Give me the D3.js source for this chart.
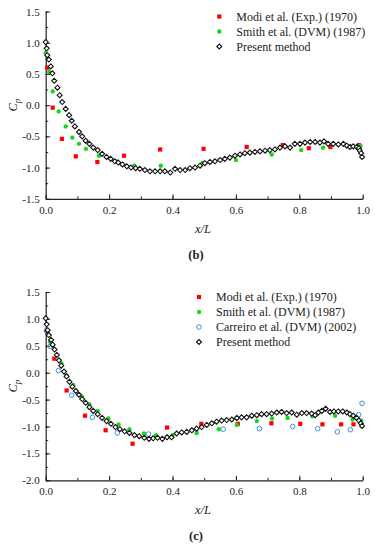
<!DOCTYPE html>
<html>
<head>
<meta charset="utf-8">
<title>Cp distribution</title>
<script src="https://d3js.org/d3.v7.min.js"></script>
<style>
  body { margin: 0; background: #fff; }
  text { font-family: "Liberation Serif", "Times New Roman", serif; fill: #222; }
</style>
</head>
<body>
<script>
// ---- data (x/L, Cp) ----
const xTicks = [0.0, 0.2, 0.4, 0.6, 0.8, 1.0];
const yTicksB = [1.5, 1.0, 0.5, 0.0, -0.5, -1.0, -1.5];
const yTicksC = [1.5, 1.0, 0.5, 0.0, -0.5, -1.0, -1.5, -2.0];

// panel (b)
const modiB = [[0.005,0.60],[0.022,-0.04],[0.051,-0.54],[0.095,-0.82],[0.163,-0.91],[0.247,-0.81],
  [0.361,-0.71],[0.498,-0.70],[0.634,-0.67],[0.748,-0.64],[0.830,-0.69],[0.898,-0.67],[0.988,-0.64]];
const smithB = [[0.0,0.84],[0.011,0.53],[0.022,0.22],[0.041,-0.10],[0.063,-0.34],[0.084,-0.52],
  [0.105,-0.62],[0.127,-0.70],[0.168,-0.81],[0.224,-0.90],[0.279,-0.97],[0.363,-0.97],[0.495,-0.92],
  [0.600,-0.88],[0.713,-0.79],[0.806,-0.72],[0.875,-0.68],[0.993,-0.65]];
const presentB = [[0,1.01],[0.003,0.91],[0.005,0.80],[0.01,0.73],[0.016,0.62],[0.021,0.51],[0.027,0.39],
  [0.037,0.28],[0.044,0.16],[0.052,0.05],[0.063,-0.06],[0.074,-0.16],[0.082,-0.25],[0.092,-0.34],
  [0.105,-0.43],[0.115,-0.50],[0.126,-0.57],[0.138,-0.62],[0.150,-0.68],[0.164,-0.72],[0.178,-0.78],
  [0.192,-0.83],[0.205,-0.86],[0.218,-0.90],[0.229,-0.92],[0.242,-0.95],[0.256,-0.98],[0.269,-1.00],
  [0.284,-1.01],[0.297,-1.02],[0.313,-1.04],[0.329,-1.06],[0.345,-1.06],[0.361,-1.06],[0.376,-1.06],
  [0.393,-1.08],[0.408,-1.02],[0.424,-1.04],[0.440,-1.04],[0.455,-1.01],[0.471,-1.00],[0.487,-0.97],
  [0.502,-0.93],[0.518,-0.91],[0.534,-0.90],[0.550,-0.88],[0.565,-0.86],[0.581,-0.84],[0.597,-0.81],
  [0.613,-0.79],[0.628,-0.77],[0.644,-0.76],[0.660,-0.75],[0.676,-0.74],[0.692,-0.73],[0.707,-0.72],
  [0.723,-0.71],[0.739,-0.68],[0.755,-0.66],[0.771,-0.68],[0.786,-0.62],[0.802,-0.62],[0.818,-0.60],
  [0.834,-0.59],[0.850,-0.59],[0.865,-0.60],[0.878,-0.58],[0.891,-0.62],[0.907,-0.62],[0.923,-0.63],
  [0.939,-0.62],[0.950,-0.65],[0.960,-0.67],[0.970,-0.66],[0.981,-0.67],[0.988,-0.69],[0.991,-0.73],
  [0.995,-0.77],[0.998,-0.83]];

// panel (c)
const modiC = [[0.005,0.75],[0.027,0.26],[0.066,-0.33],[0.124,-0.80],[0.189,-1.07],[0.274,-1.32],
  [0.383,-1.02],[0.491,-0.95],[0.606,-0.95],[0.712,-0.94],[0.803,-0.95],[0.873,-0.96],[0.932,-0.96],[0.971,-0.96]];
const smithC = [[0.014,0.57],[0.050,0.17],[0.066,-0.05],[0.087,-0.23],[0.115,-0.45],[0.138,-0.59],
  [0.164,-0.71],[0.198,-0.85],[0.230,-0.96],[0.264,-1.05],[0.310,-1.13],[0.348,-1.16],[0.400,-1.16],
  [0.476,-1.12],[0.546,-1.05],[0.603,-0.97],[0.666,-0.90],[0.714,-0.85],[0.763,-0.84],[0.841,-0.81],
  [0.913,-0.80],[0.968,-0.87],[0.995,-0.89]];
const carreiroC = [[0.002,0.78],[0.014,0.49],[0.040,0.04],[0.082,-0.42],[0.147,-0.83],[0.226,-1.12],
  [0.324,-1.14],[0.560,-1.05],[0.674,-1.04],[0.779,-1.00],[0.858,-1.04],[0.920,-1.10],[0.961,-1.06],
  [0.987,-0.78],[0.998,-0.57]];
const presentC = [[0,1.01],[0.003,0.90],[0.006,0.79],[0.01,0.70],[0.017,0.61],[0.022,0.52],[0.028,0.43],
  [0.035,0.33],[0.042,0.23],[0.049,0.13],[0.058,0.02],[0.066,-0.07],[0.075,-0.17],[0.084,-0.26],
  [0.095,-0.34],[0.105,-0.41],[0.115,-0.49],[0.126,-0.56],[0.138,-0.64],[0.150,-0.71],[0.164,-0.77],
  [0.178,-0.84],[0.192,-0.90],[0.206,-0.95],[0.220,-1.01],[0.234,-1.05],[0.249,-1.09],[0.264,-1.12],
  [0.280,-1.16],[0.295,-1.18],[0.311,-1.21],[0.326,-1.23],[0.339,-1.22],[0.353,-1.21],[0.368,-1.23],
  [0.383,-1.20],[0.397,-1.20],[0.413,-1.13],[0.429,-1.11],[0.445,-1.10],[0.461,-1.07],[0.476,-1.04],
  [0.492,-1.01],[0.508,-0.97],[0.524,-0.94],[0.539,-0.91],[0.555,-0.89],[0.571,-0.88],[0.587,-0.87],
  [0.603,-0.84],[0.618,-0.83],[0.634,-0.83],[0.650,-0.80],[0.666,-0.79],[0.681,-0.77],[0.697,-0.77],
  [0.713,-0.76],[0.729,-0.74],[0.744,-0.73],[0.760,-0.75],[0.776,-0.74],[0.792,-0.78],[0.808,-0.75],
  [0.823,-0.75],[0.839,-0.76],[0.850,-0.79],[0.860,-0.74],[0.871,-0.71],[0.883,-0.67],[0.897,-0.73],
  [0.909,-0.72],[0.923,-0.72],[0.937,-0.72],[0.950,-0.74],[0.960,-0.77],[0.970,-0.80],[0.981,-0.84],
  [0.988,-0.89],[0.994,-0.94],[0.998,-0.99]];

const width = 375, height = 550;
const svg = d3.select("body").append("svg")
  .attr("width", width)
  .attr("height", height);

const styles = {
  modi:     { name: "Modi et al. (Exp.) (1970)",     kind: "square" },
  smith:    { name: "Smith et al. (DVM) (1987)",     kind: "dot" },
  carreiro: { name: "Carreiro et al. (DVM) (2002)",  kind: "ring" },
  present:  { name: "Present method",                kind: "diamond" }
};

function drawMarker(sel, kind) {
  if (kind === "square") {
    sel.append("rect").attr("x", -2.1).attr("y", -2.1).attr("width", 4.2).attr("height", 4.2)
      .attr("fill", "#ff0000");
  } else if (kind === "dot") {
    sel.append("circle").attr("r", 2.2).attr("fill", "#16d916");
  } else if (kind === "ring") {
    sel.append("circle").attr("r", 2.3).attr("fill", "none")
      .attr("stroke", "#3b8ef0").attr("stroke-width", 1);
  } else {
    sel.append("path").attr("d", d3.symbol(d3.symbolDiamond2, 16)())
      .attr("fill", "#fff").attr("stroke", "#111").attr("stroke-width", 1.1);
  }
}

function panel(opt) {
  const x = d3.scaleLinear().domain([0, 1]).range([45.7, 362.7]);
  const y = d3.scaleLinear().domain(opt.yDomain).range(opt.yRange);
  const g = svg.append("g");

  // minor ticks
  g.append("g").attr("transform", `translate(0,${opt.yRange[0]})`)
    .call(d3.axisBottom(x).tickValues(d3.range(0, 1.01, 0.1)).tickSize(-2.5).tickSizeOuter(0).tickFormat(""))
    .call(a => a.select(".domain").remove());
  g.append("g").attr("transform", `translate(${x(0)},0)`)
    .call(d3.axisLeft(y).tickValues(d3.range(opt.yDomain[0], opt.yDomain[1] + 0.01, 0.25))
      .tickSize(-2.5).tickSizeOuter(0).tickFormat(""))
    .call(a => a.select(".domain").remove());

  // major axes
  g.append("g").attr("transform", `translate(0,${opt.yRange[0]})`)
    .call(d3.axisBottom(x).tickValues(xTicks).tickSize(-4.5).tickSizeOuter(0)
      .tickPadding(7).tickFormat(d3.format(".1f")));
  g.append("g").attr("transform", `translate(${x(0)},0)`)
    .call(d3.axisLeft(y).tickValues(opt.yTicks).tickSize(-4.5).tickSizeOuter(0)
      .tickPadding(6).tickFormat(d => d3.format(".1f")(d).replace("−", "-")));
  g.selectAll(".tick line").attr("stroke", "#222");
  g.selectAll(".domain").attr("stroke", "#222").attr("stroke-width", 1.2);
  g.selectAll(".tick text").style("font-family", "Liberation Serif").style("font-size", "11px").attr("fill", "#333");

  // series (present method last, on top)
  opt.series.forEach(s => {
    const st = styles[s.key];
    g.append("g").selectAll("g")
      .data(s.data)
      .join("g")
      .attr("transform", d => `translate(${x(d[0])},${y(d[1])})`)
      .each(function () { drawMarker(d3.select(this), st.kind); });
  });

  // legend
  const lg = g.append("g").attr("transform", `translate(${opt.legend[0]},${opt.legend[1]})`);
  opt.legendOrder.forEach((k, i) => {
    const row = lg.append("g").attr("transform", `translate(0,${i * 15})`);
    drawMarker(row, styles[k].kind);
    row.append("text").attr("x", 17).attr("dy", "0.35em")
      .style("font-size", "12px").text(styles[k].name);
  });

  // axis titles
  const cy = (opt.yRange[0] + opt.yRange[1]) / 2;
  const yt = g.append("text").attr("transform", `translate(17,${cy}) rotate(-90)`)
    .attr("text-anchor", "middle").style("font-size", "12.5px").style("font-style", "italic");
  yt.append("tspan").text("C");
  yt.append("tspan").attr("dy", 3).style("font-size", "9px").text("p");

  g.append("text").attr("x", 203).attr("y", opt.yRange[0] + 34)
    .attr("text-anchor", "middle").style("font-size", "12.5px").style("font-style", "italic").text("x/L");
  g.append("text").attr("x", 196).attr("y", opt.yRange[0] + 60)
    .attr("text-anchor", "middle").style("font-size", "12.5px").style("font-weight", "bold").text(opt.tag);
}

panel({
  yDomain: [-1.5, 1.5], yRange: [198.8, 11.5], yTicks: yTicksB,
  series: [{ key: "modi", data: modiB }, { key: "smith", data: smithB }, { key: "present", data: presentB }],
  legendOrder: ["modi", "smith", "present"], legend: [219.3, 16.5], tag: "(b)"
});

panel({
  yDomain: [-2.0, 1.5], yRange: [480.3, 292], yTicks: yTicksC,
  series: [{ key: "modi", data: modiC }, { key: "smith", data: smithC },
           { key: "carreiro", data: carreiroC }, { key: "present", data: presentC }],
  legendOrder: ["modi", "smith", "carreiro", "present"], legend: [199, 297], tag: "(c)"
});
</script>
</body>
</html>
